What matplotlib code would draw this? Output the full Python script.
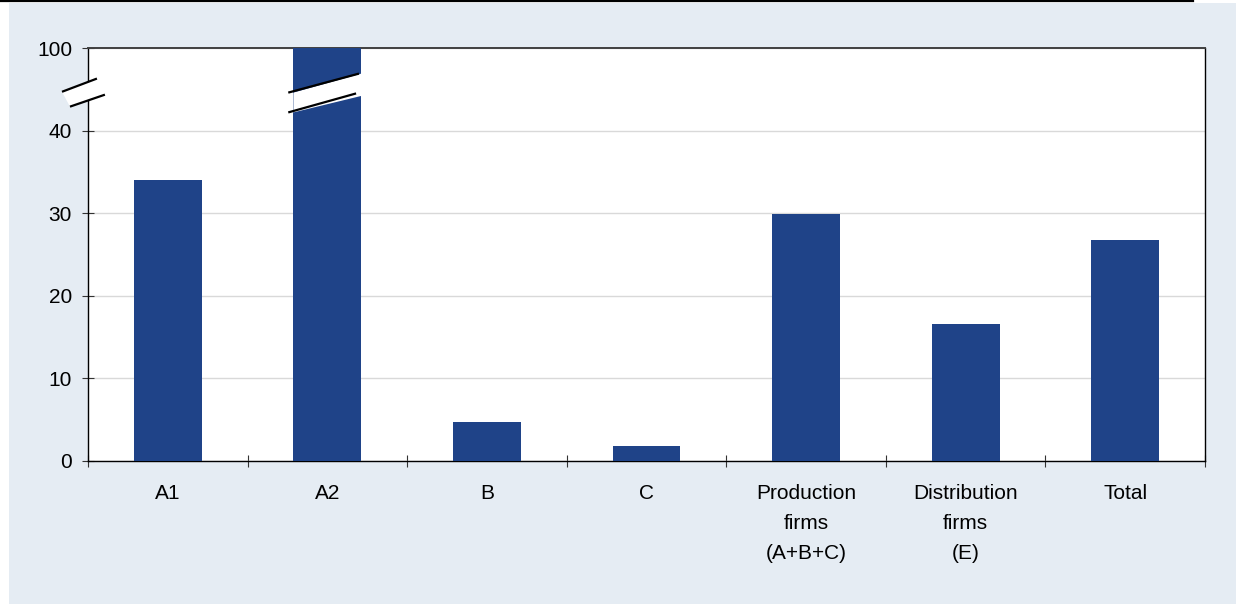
import matplotlib
matplotlib.use("Agg")
import matplotlib.pyplot as plt
from matplotlib.patches import Rectangle, Polygon
from matplotlib.lines import Line2D

# ---- data ----
categories = ["A1", "A2", "B", "C", "Production\nfirms\n(A+B+C)", "Distribution\nfirms\n(E)", "Total"]
values = [34.0, 100.0, 4.7, 1.8, 29.9, 16.6, 26.7]
ytick_values = [0, 10, 20, 30, 40, 100]
ytick_labels = ["0", "10", "20", "30", "40", "100"]

# ---- broken axis mapping: 40..100 compressed into 40..50 ----
BREAK_LOW, BREAK_HIGH, TOP_POS = 40.0, 100.0, 50.0


def to_axis(v):
    if v <= BREAK_LOW:
        return v
    return BREAK_LOW + (v - BREAK_LOW) * (TOP_POS - BREAK_LOW) / (BREAK_HIGH - BREAK_LOW)


plt.rcParams["font.family"] = ["Liberation Sans", "DejaVu Sans"]

W, H = 1236, 604
fig = plt.figure(figsize=(W / 100, H / 100), dpi=100)
fig.patch.set_facecolor("white")

BG = "#E5ECF3"
BAR = "#1F4388"
fig.patches.append(Rectangle((9 / W, 0), 1 - 9 / W, 1 - 3 / H, transform=fig.transFigure,
                             facecolor=BG, edgecolor="none", zorder=-10))
fig.lines.append(Line2D([0, 1193 / W], [1 - 1 / H, 1 - 1 / H], transform=fig.transFigure,
                        color="black", linewidth=1.6, zorder=-5))

ax = fig.add_axes([88 / W, 1 - 461 / H, (1205 - 88) / W, (461 - 48) / H])
ax.set_zorder(1)
ax.set_facecolor("white")

xs = list(range(len(categories)))
heights = [to_axis(v) for v in values]
ax.bar(xs, heights, width=0.425, color=BAR, zorder=3)

ax.set_xlim(-0.5, len(categories) - 0.5)
ax.set_ylim(0, TOP_POS)

ax.set_yticks([to_axis(v) for v in ytick_values])
ax.set_yticklabels(ytick_labels)
ax.yaxis.grid(True, color="#D9D9D9", linewidth=1.0, zorder=0)
ax.set_axisbelow(True)

ax.set_xticks(xs)
ax.set_xticklabels(categories, linespacing=1.75)
ax.set_xticks([x - 0.5 for x in xs] + [len(categories) - 0.5], minor=True)
ax.tick_params(axis="x", which="major", length=0, pad=16.5, labelsize=15, colors="black")
ax.tick_params(axis="x", which="minor", direction="inout", length=8.6, width=0.8, color="#333333")
ax.tick_params(axis="y", which="major", direction="inout", length=8.6, width=0.8, pad=7.2,
               labelsize=15, color="#333333")

for side in ["left", "bottom", "right"]:
    ax.spines[side].set_color("black")
    ax.spines[side].set_linewidth(1.0)
ax.spines["top"].set_color("#404040")
ax.spines["top"].set_linewidth(1.4)

# ---- break marks ----
# on the y axis (x in data units, outside the axes)
ya_up = [(-0.663, 44.7), (-0.444, 46.3)]
ya_lo = [(-0.613, 42.9), (-0.394, 44.35)]
ax.add_patch(Polygon(ya_up + ya_lo[::-1], closed=True, facecolor="white", edgecolor="none",
                     zorder=5, clip_on=False))
for seg in (ya_up, ya_lo):
    ax.plot([p[0] for p in seg], [p[1] for p in seg], color="black", lw=1.6, zorder=6,
            clip_on=False, solid_capstyle="butt")

# on the A2 bar
bx = xs[1]
b_up = [(bx - 0.245, 44.6), (bx + 0.198, 46.9)]
b_lo = [(bx - 0.245, 42.2), (bx + 0.180, 44.5)]
ax.add_patch(Polygon([(bx - 0.213, 44.6), (bx + 0.213, 46.9), (bx + 0.213, 44.2), (bx - 0.213, 42.2)],
                     closed=True, facecolor="white", edgecolor="none", zorder=4))
for seg in (b_up, b_lo):
    ax.plot([p[0] for p in seg], [p[1] for p in seg], color="black", lw=1.6, zorder=6,
            solid_capstyle="butt")

fig.savefig("out.png", dpi=100, facecolor=fig.get_facecolor())
